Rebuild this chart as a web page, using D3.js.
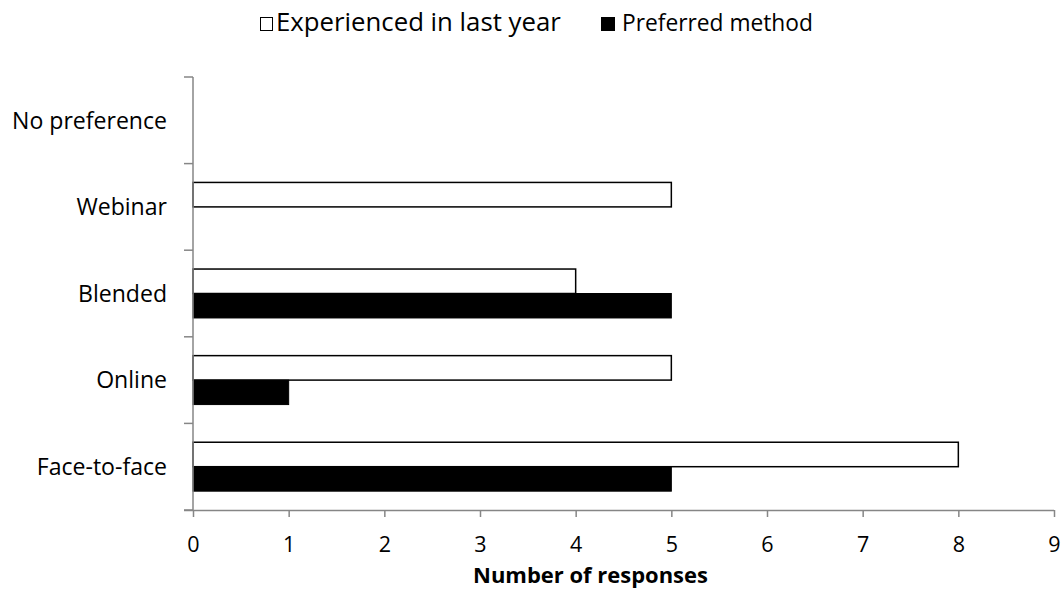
<!DOCTYPE html>
<html><head><meta charset="utf-8">
<script src="https://cdn.jsdelivr.net/npm/d3@7"></script>
<style>body{margin:0;background:#fff}svg{display:block}text{font-family:"Open Sans",sans-serif}</style>
</head><body><svg id="c" width="1061" height="589"></svg>
<script>
const categories = ["Face-to-face","Online","Blended","Webinar","No preference"];
const experienced = [8,5,4,5,0];
const preferred = [5,1,5,0,0];
const xTicks = [0,1,2,3,4,5,6,7,8,9];
const seriesNames = ["Experienced in last year","Preferred method"];

const svg = d3.select("#c");
const m = {l:193, r:1054, t:77, b:510};
const x = d3.scaleLinear().domain([0,9]).range([m.l, m.r]);
const y = d3.scaleBand().domain(categories.slice().reverse()).range([m.t, m.b]).paddingInner(0).paddingOuter(0);
const inner = d3.scaleBand().domain(["e","p"]).range([0, y.bandwidth()]).paddingInner(0).paddingOuter(0.77);

function fitWidth(sel, target){
  const n = sel.node(); const fs = parseFloat(sel.attr("font-size"));
  const w = n.getComputedTextLength();
  if (w>0) sel.attr("font-size", (fs*target/w).toFixed(2));
  return sel;
}

const data = categories.map((c,i)=>({c, e:experienced[i], p:preferred[i]}));
const g = svg.append("g");
data.forEach(d=>{
  if(d.e>0) g.append("rect").attr("x",x(0)).attr("y",y(d.c)+inner("e")).attr("width",x(d.e)-x(0)).attr("height",inner.bandwidth())
    .attr("fill","#fff").attr("stroke","#000").attr("stroke-width",1.5);
  if(d.p>0) g.append("rect").attr("x",x(0)).attr("y",y(d.c)+inner("p")).attr("width",x(d.p)-x(0)).attr("height",inner.bandwidth())
    .attr("fill","#000").attr("stroke","#000").attr("stroke-width",1);
});

// x axis
const xa = svg.append("g").attr("transform",`translate(0,${m.b})`).call(d3.axisBottom(x).tickValues(xTicks).tickSize(7).tickSizeOuter(0).tickPadding(0));
xa.select(".domain").attr("stroke","#868686").attr("stroke-width",1.5).attr("d",`M${m.l-9},0.5H${m.r}`);
xa.selectAll(".tick line").attr("stroke","#868686").attr("stroke-width",1.5);
xa.selectAll(".tick text").attr("font-size",21.5).attr("fill","#000").attr("y",42).attr("dy",null);

// y axis
const ya = svg.append("g").attr("transform",`translate(${m.l},0)`);
ya.append("line").attr("x1",0).attr("x2",0).attr("y1",m.t).attr("y2",m.b).attr("stroke","#868686").attr("stroke-width",1.5);
const yt = [m.t, ...categories.slice().reverse().map(c=>y(c)+y.bandwidth())];
yt.forEach(v=>ya.append("line").attr("x1",-9).attr("x2",0).attr("y1",v).attr("y2",v).attr("stroke","#868686").attr("stroke-width",1.5));
let labelFs = 20;
const probe = ya.append("text").attr("font-size",20).text("No preference");
fitWidth(probe,155); labelFs = parseFloat(probe.attr("font-size")); probe.remove();
categories.forEach(c=>ya.append("text").attr("x",-26).attr("y",y(c)+y.bandwidth()/2).attr("dy","0.36em")
  .attr("text-anchor","end").attr("font-size",labelFs).text(c));

const title = svg.append("text").attr("x",590.5).attr("y",583).attr("text-anchor","middle").attr("font-size",18).attr("font-weight","bold").text("Number of responses");
fitWidth(title,235);

// legend
const lg = svg.append("g");
lg.append("rect").attr("x",260.5).attr("y",17.5).attr("width",12).attr("height",13).attr("fill","#fff").attr("stroke","#000").attr("stroke-width",1);
fitWidth(lg.append("text").attr("x",276).attr("y",31).attr("font-size",20).text(seriesNames[0]),285);
lg.append("rect").attr("x",601).attr("y",17).attr("width",14).attr("height",14).attr("fill","#000");
fitWidth(lg.append("text").attr("x",622).attr("y",31).attr("font-size",20).text(seriesNames[1]),191);
</script></body></html>
